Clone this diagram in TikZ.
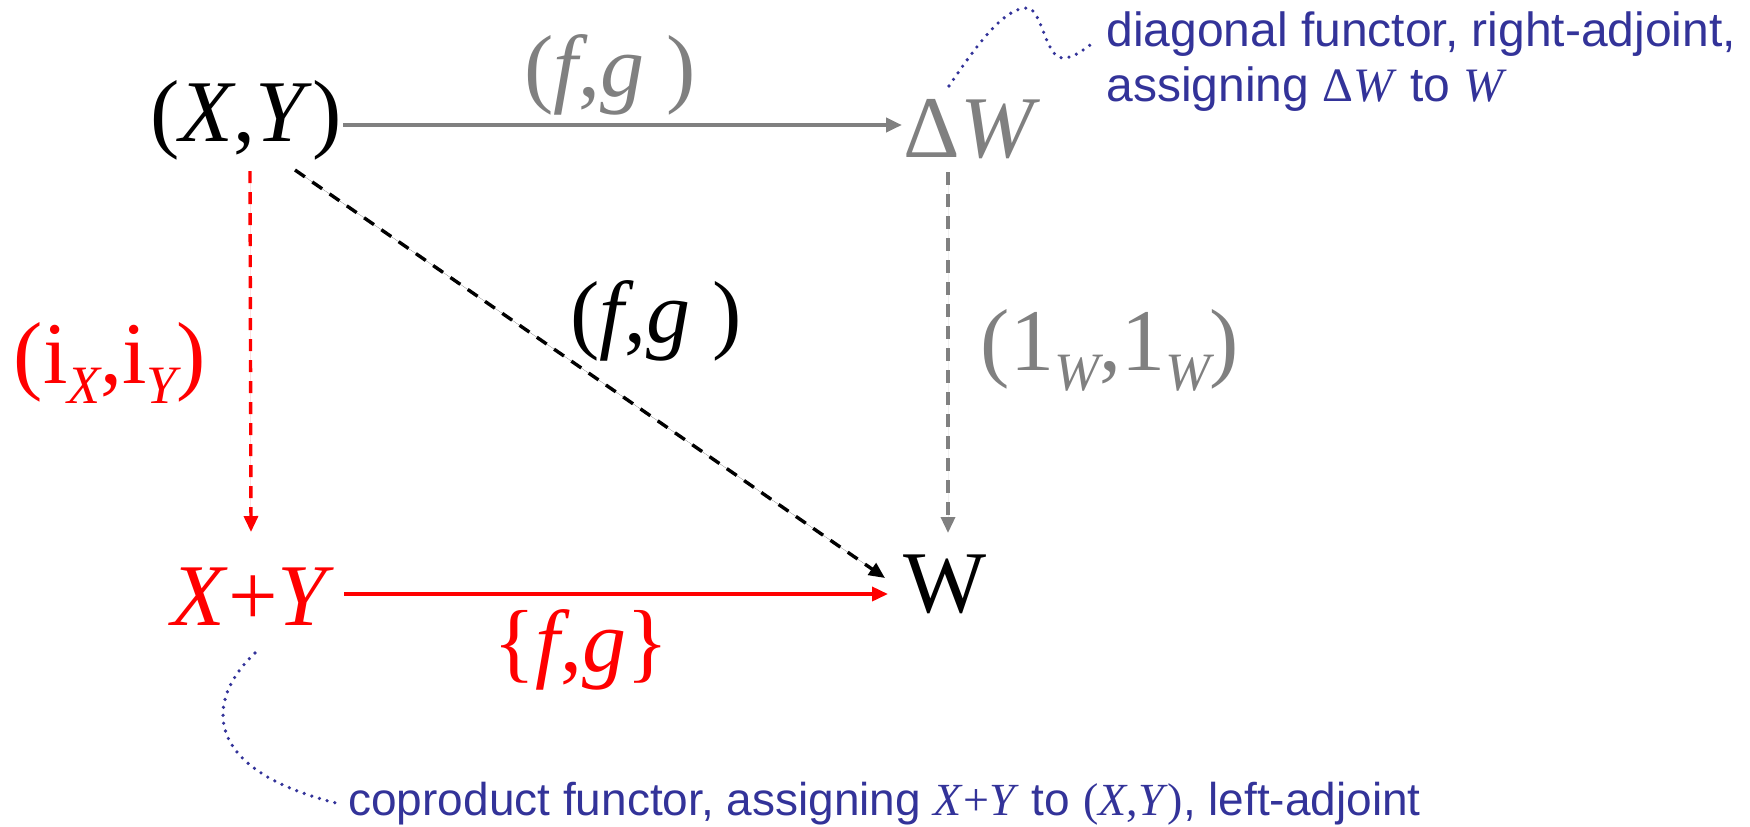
\documentclass[tikz,border=0pt]{standalone}
\usepackage{fontspec}
\setmainfont{Liberation Serif}
\newfontfamily\annfont{Liberation Sans}
\usetikzlibrary{arrows.meta,calc}
\definecolor{grayc}{RGB}{128,128,128}
\definecolor{annblue}{RGB}{51,51,153}
\newcommand\lsub[1]{\raisebox{-10pt}{\fontsize{27}{30}\selectfont\itshape #1}}
\begin{document}
\begin{tikzpicture}[x=0.5pt,y=-0.5pt,
  big/.style={inner sep=0pt, anchor=base, font=\fontsize{44}{50}\selectfont},
  ann/.style={inner sep=0pt, anchor=base west, text=annblue, font=\annfont\fontsize{24}{28}\selectfont},
  tipA/.style={-{Triangle[length=8pt,width=7pt]}},
  gline/.style={draw=grayc, fill=grayc, line width=2.2pt},
  rline/.style={draw=red, fill=red, line width=1.8pt},
  rdash/.style={draw=red, fill=red, line width=1.7pt, dash pattern=on 6pt off 4.5pt},
  gdash/.style={draw=grayc, fill=grayc, line width=1.7pt, dash pattern=on 6.5pt off 4.5pt},
  kdash/.style={draw=black, fill=black, line width=1.7pt, dash pattern=on 6pt off 4.5pt},
  dots/.style={draw=annblue, line width=1.8pt, dash pattern=on 0pt off 4pt, line cap=round}
]
\useasboundingbox (0,0) rectangle (1750,826);

% objects
\node[big] (xy) at (246,141.7) {(\textit{X},\textit{Y})};
\node[big,text=grayc] (dw) at (972,157) {Δ\textit{W}};
\node[big] (w) at (945.5,612) {W};
\node[big,text=red] (xp) at (253,625) {\textit{X}+\textit{Y}};

% labels
\node[big,text=grayc] (lfg1) at (610,96) {(\textit{f},\textit{g} )};
\node[big] (lfg2) at (656,342) {(\textit{f},\textit{g} )};
\node[big,text=red] (lij) at (110,383) {(i\lsub{X},i\lsub{Y})};
\node[big,text=grayc] (l11) at (1110,370) {(1\lsub{W},1\lsub{W})};
\node[big,text=red] (lfgb) at (581,671) {\{\textit{f},\textit{g}\}};

% annotations
\node[ann] (a1) at (1106,46.7) {diagonal functor, right-adjoint,};
\node[ann] (a2) at (1106,101.7) {assigning {\rmfamily Δ\textit{W}} to {\rmfamily\textit{W}}};
\node[ann,font=\annfont\fontsize{23}{27}\selectfont] (a3) at (348,815) {coproduct functor, assigning {\rmfamily\textit{X}+\textit{Y}} to {\rmfamily(\textit{X},\textit{Y})}, left-adjoint};

% arrows
\draw[gline,tipA] ($(xy.base)+(97,-16.7)$) -- ($(dw.base)+(-70,-32)$);
\draw[rdash,tipA] ($(xy.base)+(4,29.3)$) -- ($(xp.base)+(-2,-93)$);
\draw[gdash,tipA] ($(dw.base)+(-24,15)$) -- ($(w.base)+(2.5,-79)$);
\draw[kdash,tipA] ($(xy.base)+(49,28.3)$) -- ($(w.base)+(-60.5,-34)$);
\draw[rline,tipA] ($(xp.base)+(91,-31)$) -- ($(w.base)+(-57.5,-18)$);

% dotted callouts
\draw[dots] ($(dw.base)+(-23,-71)$) .. controls (980,40) and (1005,8) .. (1027,8)
  .. controls (1042,8) and (1045,58) .. (1063,58)
  .. controls (1075,58) and (1085,48) .. ($(a1.base west)+(-11,-5)$);
\draw[dots] ($(xp.base)+(2,28)$) .. controls (205,700) and (200,770) .. ($(a3.base west)+(-8,-11)$);
\end{tikzpicture}
\end{document}
